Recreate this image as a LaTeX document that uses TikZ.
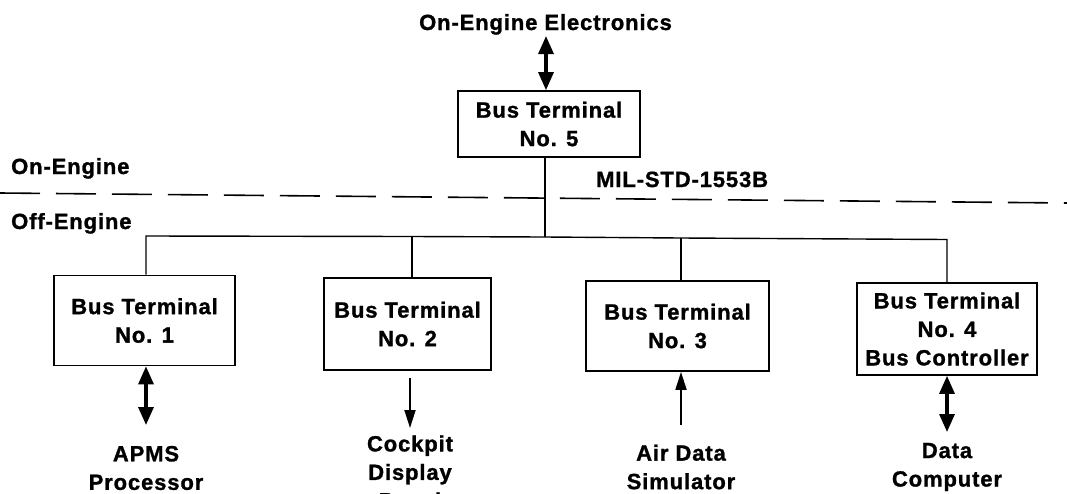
\documentclass[tikz,border=0pt]{standalone}
\usepackage{fontspec}
\newfontfamily\hv{Liberation Sans}[LetterSpace=4, BoldFeatures={FakeBold=1.2}]
\usetikzlibrary{arrows.meta}
\tikzset{
  lbl/.style={font=\hv\bfseries\fontsize{22}{28.5}\selectfont, inner sep=0pt, align=center},
  term/.style={lbl, draw, line width=1.7pt, minimum width=#1, minimum height=90pt},
  wire/.style={line width=1.4pt},
  bidi/.style={line width=3.2pt, {Triangle[width=15pt,length=18pt]}-{Triangle[width=15pt,length=18pt]}},
  uni/.style={line width=1.8pt, -{Triangle[width=11pt,length=18pt]}},
  sep/.style={line width=1.6pt, dash pattern=on 40pt off 16pt},
}
\begin{document}
\begin{tikzpicture}[x=1pt,y=-1pt]
\useasboundingbox (0,0) rectangle (1067,493);
% top
\node[lbl, anchor=base] (ee) at (545.5,30) {On-Engine Electronics};
\node[term=182pt, minimum height=66pt] (bt5) at (549,124) {Bus Terminal\\No. 5};
\coordinate (et) at (546,36);
\draw[bidi] (et) -- (et |- bt5.north);
% side labels
\node[lbl, anchor=base west] (on) at (11,174) {On-Engine};
\node[lbl, anchor=base west] (off) at (11,229) {Off-Engine};
\node[lbl, anchor=base west] (mil) at (596,187) {MIL-STD-1553B};
\coordinate (dl) at (0,193);
\coordinate (dr) at (1067,203);
\draw[sep] (dl) -- (dr);
% terminals
\node[term=181pt] (bt1) at (144.5,320.5) {Bus Terminal\\No. 1};
\node[term=167pt, minimum height=92pt] (bt2) at (407.5,324) {Bus Terminal\\No. 2};
\node[term=183pt] (bt3) at (677.5,326) {Bus Terminal\\No. 3};
\node[term=180pt, minimum height=92pt] (bt4) at (947,329) {Bus Terminal\\No. 4\\Bus Controller};
% bus
\coordinate (j0) at (545,237);
\coordinate (j1) at (146,236);
\coordinate (j2) at (412,236.5);
\coordinate (j3) at (681,238);
\coordinate (j4) at (947,239.5);
\draw[wire] (bt5.south -| j0) -- (j0);
\draw[wire] (j1 |- bt1.north) -- (j1) -- (j2) -- (j0) -- (j3) -- (j4) -- (j4 |- bt4.north);
\draw[wire] (j2) -- (j2 |- bt2.north);
\draw[wire] (j3) -- (j3 |- bt3.north);
% devices
\node[lbl] (apms) at (146,468) {APMS\\Processor};
\node[lbl] (cdp) at (410,472) {Cockpit\\Display\\Panel};
\node[lbl] (ads) at (681,467) {Air Data\\Simulator};
\node[lbl] (dc) at (947,467) {Data\\Computer};
\coordinate (a1) at (146,425);
\coordinate (a2s) at (410,378);
\coordinate (a2) at (410,428);
\coordinate (a3) at (681,425);
\coordinate (a4) at (947,432);
\draw[bidi] (bt1.south -| a1) -- (a1);
\draw[uni] (a2s) -- (a2);
\draw[uni] (a3) -- (bt3.south -| a3);
\draw[bidi] (bt4.south -| a4) -- (a4);
\end{tikzpicture}
\end{document}
